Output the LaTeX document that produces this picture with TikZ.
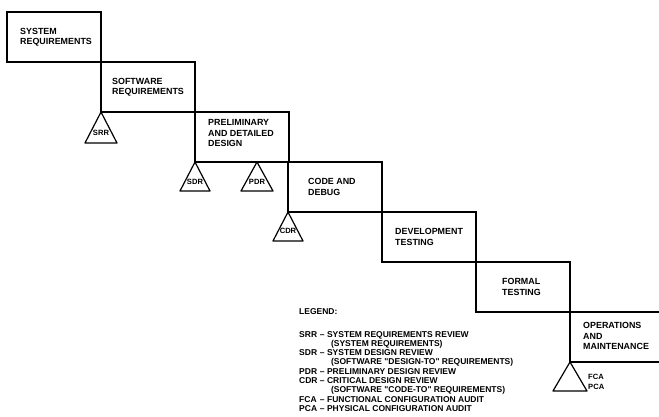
\documentclass[tikz,border=0pt]{standalone}
\usepackage{fontspec}
\setmainfont{Liberation Sans}
\begin{document}
\begin{tikzpicture}[x=1pt,y=-1pt,
  box/.style={draw, line width=1.2pt, minimum width=94pt, minimum height=50pt, inner sep=0pt, outer sep=0pt, anchor=north west},
  lbl/.style={anchor=west, align=left, inner sep=0pt, font=\fontsize{8.9}{10.2}\selectfont\bfseries},
  tri/.style={draw, line width=1.2pt, line join=round},
  tlbl/.style={inner sep=0pt, font=\fontsize{7.6}{8}\selectfont\bfseries},
  leg/.style={inner sep=0pt, anchor=base west, font=\fontsize{8.5}{9.3}\selectfont\bfseries}]
\useasboundingbox (0,0) rectangle (659,417);
% boxes
\node[box] (b1) at (7,12) {};
\node[box] (b2) at (101,62) {};
\node[box] (b3) at (195,112) {};
\node[box] (b4) at (288,162) {};
\node[box] (b5) at (382,212) {};
\node[box] (b6) at (476,262) {};
\coordinate (b7) at (570,312);
\coordinate (b7sw) at (570,362);
\draw[line width=1.2pt] (659,312) -- (b7) -- (b7sw) -- (659,362);
% box texts
\node[lbl] (t1) at (20,37) {SYSTEM\\REQUIREMENTS};
\node[lbl] (t2) at (112,87) {SOFTWARE\\REQUIREMENTS};
\node[lbl] (t3) at (208,133) {PRELIMINARY\\AND DETAILED\\DESIGN};
\node[lbl] (t4) at (308,187) {CODE AND\\DEBUG};
\node[lbl] (t5) at (395,237) {DEVELOPMENT\\TESTING};
\node[lbl] (t6) at (502,287) {FORMAL\\TESTING};
\node[lbl] (t7) at (583,336) {OPERATIONS\\AND\\MAINTENANCE};
% review triangles
\draw[tri] (b2.south west) -- ++(-16,31) -- ++(32,0) -- cycle;
\path (b2.south west) ++(0,21) node[tlbl] (srr) {SRR};
\draw[tri] (b3.south west) -- ++(-15,29) -- ++(30,0) -- cycle;
\path (b3.south west) ++(0,20) node[tlbl] (sdr) {SDR};
\coordinate (pdrapex) at (257,162);
\draw[tri] (pdrapex) -- ++(-16,29) -- ++(32,0) -- cycle;
\path (pdrapex) ++(0,20) node[tlbl] (pdr) {PDR};
\draw[tri] (b4.south west) -- ++(-15,29) -- ++(30,0) -- cycle;
\path (b4.south west) ++(0,19) node[tlbl] (cdr) {CDR};
\draw[tri] (b7sw) -- ++(-17,29) -- ++(34,0) -- cycle;
\node[tlbl, anchor=west, align=left, font=\fontsize{7.6}{9.5}\selectfont\bfseries] (fca) at (588,382) {FCA\\PCA};
% legend
\node[leg] (legend) at (299,314) {LEGEND:};
\node[leg] (legtab) at (299,337) {\begin{tabular}[t]{@{}l@{}l@{}}
SRR & ~– SYSTEM REQUIREMENTS REVIEW\\
    & \phantom{~– }\hspace{4pt}(SYSTEM REQUIREMENTS)\\
SDR & ~– SYSTEM DESIGN REVIEW\\
    & \phantom{~– }\hspace{4pt}(SOFTWARE \textquotedbl DESIGN-TO\textquotedbl{} REQUIREMENTS)\\
PDR & ~– PRELIMINARY DESIGN REVIEW\\
CDR & ~– CRITICAL DESIGN REVIEW\\
    & \phantom{~– }\hspace{4pt}(SOFTWARE \textquotedbl CODE-TO\textquotedbl{} REQUIREMENTS)\\
FCA & ~– FUNCTIONAL CONFIGURATION AUDIT\\
PCA & ~– PHYSICAL CONFIGURATION AUDIT
\end{tabular}};
\end{tikzpicture}
\end{document}
